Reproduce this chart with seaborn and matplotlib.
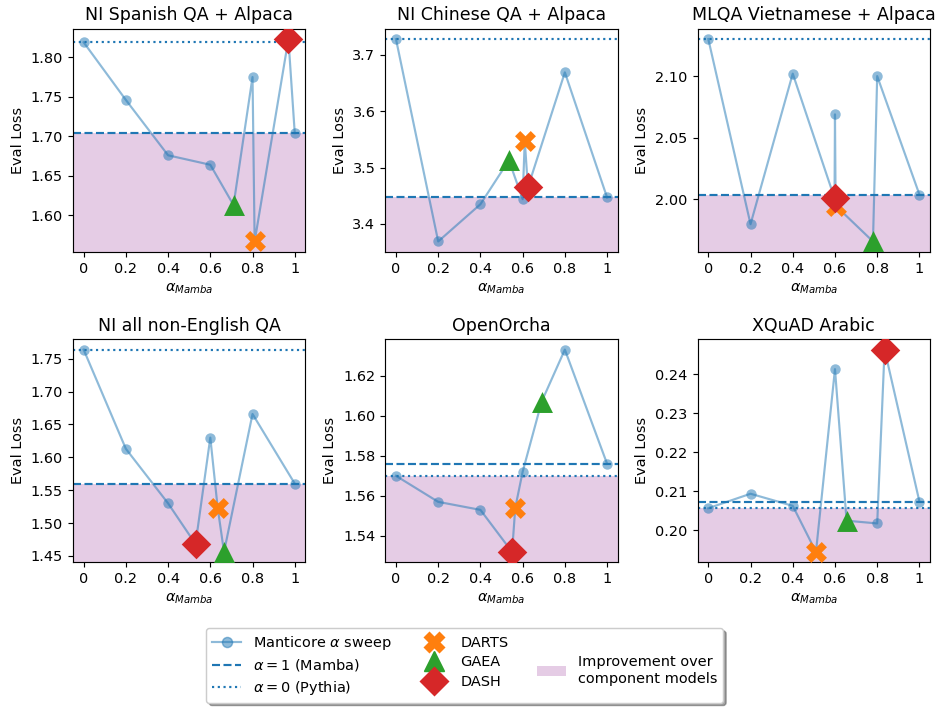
import numpy as np
import pandas as pd
import matplotlib
matplotlib.use("Agg")
import matplotlib.pyplot as plt
import seaborn as sns
from matplotlib.lines import Line2D
from matplotlib.patches import Patch

plt.rcParams['font.family'] = ['DejaVu Sans']

titles = ["NI Spanish QA + Alpaca", "NI Chinese QA + Alpaca", "MLQA Vietnamese + Alpaca",
          "NI all non-English QA", "OpenOrcha", "XQuAD Arabic"]

sweep_alpha = [0, 0.2, 0.4, 0.6, 0.8, 1.0]
sweep_loss = [
    [1.819, 1.746, 1.676, 1.664, 1.775, 1.704],
    [3.728, 3.369, 3.435, 3.444, 3.669, 3.447],
    [2.130, 1.980, 2.102, 2.069, 2.100, 2.004],
    [1.764, 1.613, 1.530, 1.630, 1.666, 1.560],
    [1.570, 1.557, 1.553, 1.572, 1.633, 1.576],
    [0.2057, 0.2094, 0.2063, 0.2413, 0.2018, 0.2074],
]

darts_alpha = [0.81, 0.61, 0.603, 0.635, 0.565, 0.51]
darts_loss = [1.567, 3.548, 1.995, 1.523, 1.554, 0.1945]
gaea_alpha = [0.71, 0.535, 0.78, 0.665, 0.69, 0.655]
gaea_loss = [1.613, 3.513, 1.966, 1.456, 1.607, 0.2025]
dash_alpha = [0.97, 0.625, 0.598, 0.53, 0.55, 0.835]
dash_loss = [1.823, 3.465, 2.001, 1.468, 1.532, 0.2463]

methods = [("DARTS", "X", "C1", darts_alpha, darts_loss),
           ("GAEA", "^", "C2", gaea_alpha, gaea_loss),
           ("DASH", "D", "C3", dash_alpha, dash_loss)]

fig, axes = plt.subplots(2, 3, figsize=(937 / 104, 707 / 104), dpi=104)
fig.subplots_adjust(left=0.078, right=0.9925, top=0.959, bottom=0.205,
                    wspace=0.345, hspace=0.395)

for i, ax in enumerate(axes.flat):
    sw = pd.DataFrame({"alpha": sweep_alpha, "loss": sweep_loss[i]})
    pts = [sw]
    for name, mk, col, xa, ya in methods:
        pts.append(pd.DataFrame({"alpha": [xa[i]], "loss": [ya[i]]}))
    allpts = pd.concat(pts).sort_values("alpha", kind="mergesort")

    sns.lineplot(data=allpts, x="alpha", y="loss", sort=False, estimator=None,
                 color="C0", alpha=0.5, lw=1.5, ax=ax)
    sns.scatterplot(data=sw, x="alpha", y="loss", color="C0", alpha=0.5,
                    s=52, linewidth=0, ax=ax)

    ax.axhline(sweep_loss[i][-1], color="C0", ls="--", lw=1.5)
    ax.axhline(sweep_loss[i][0], color="C0", ls=":", lw=1.5)

    for name, mk, col, xa, ya in methods:
        sns.scatterplot(x=[xa[i]], y=[ya[i]], marker=mk, color=col, s=210,
                        linewidth=0, ax=ax, zorder=5)

    ylim = ax.get_ylim()
    ax.axhspan(ylim[0], min(sweep_loss[i][0], sweep_loss[i][-1]),
               color="purple", alpha=0.2, lw=0, zorder=0)
    ax.set_ylim(ylim)
    ax.set_xlim(-0.05, 1.05)
    ax.set_xticks(sweep_alpha)
    ax.set_xticklabels(["0", "0.2", "0.4", "0.6", "0.8", "1"])
    ax.set_title(titles[i], fontsize=12)
    ax.set_xlabel(r"$\alpha_{Mamba}$")
    ax.set_ylabel("Eval Loss")

handles = [
    Line2D([], [], color="C0", alpha=0.5, marker="o", lw=1.5, ms=7,
           label=r"Manticore $\alpha$ sweep"),
    Line2D([], [], color="C0", ls="--", lw=1.5, label=r"$\alpha=1$ (Mamba)"),
    Line2D([], [], color="C0", ls=":", lw=1.5, label=r"$\alpha=0$ (Pythia)"),
]
for name, mk, col, xa, ya in methods:
    handles.append(Line2D([], [], color=col, marker=mk, ls="none", ms=14, label=name))
handles.append(Line2D([], [], color="none", label=" "))
handles.append(Patch(facecolor="purple", alpha=0.2, lw=0,
                     label="Improvement over\ncomponent models"))

fig.legend(handles=handles, ncol=3, loc="lower center", bbox_to_anchor=(0.496, -0.004),
           fontsize=10, shadow=True, labelspacing=0.38)

plt.savefig("out.png", dpi=104)
